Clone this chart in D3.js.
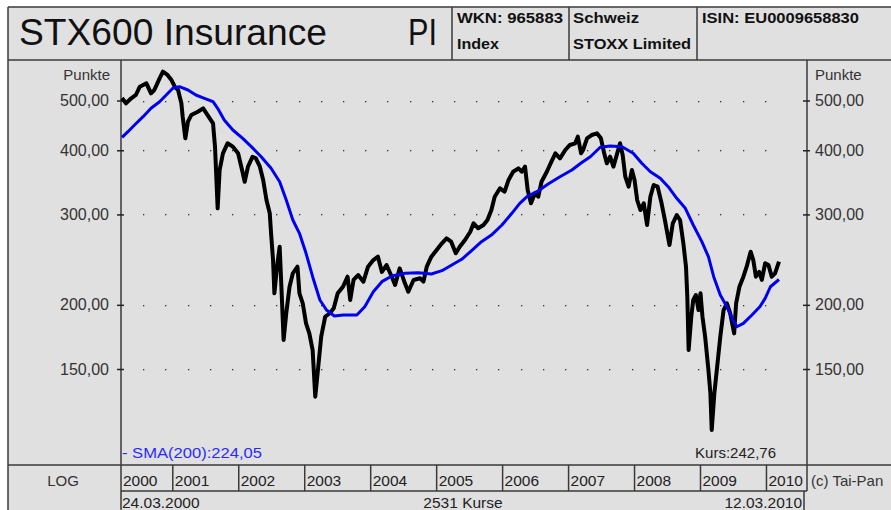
<!DOCTYPE html>
<html>
<head>
<meta charset="utf-8">
<script src="https://cdn.jsdelivr.net/npm/d3@7"></script>
<style>
  html, body { margin: 0; padding: 0; background: #fff; }
  svg { display: block; font-family: "Liberation Sans", Arial, sans-serif; }
</style>
</head>
<body>
<div id="chart"></div>
<script>
//#region Data
// price (Kurs), x as decimal year
const priceYears = [
    2000.23, 2000.29, 2000.37, 2000.44, 2000.50, 2000.60, 2000.67, 2000.72, 2000.80, 2000.85,
    2000.92, 2000.98, 2001.03, 2001.08, 2001.13, 2001.15, 2001.19, 2001.23, 2001.28, 2001.38,
    2001.46, 2001.51, 2001.56, 2001.61, 2001.64, 2001.68, 2001.71, 2001.76, 2001.83, 2001.91,
    2001.99, 2002.05, 2002.09, 2002.14, 2002.21, 2002.26, 2002.32, 2002.37, 2002.42, 2002.47,
    2002.49, 2002.52, 2002.54, 2002.58, 2002.62, 2002.64, 2002.68, 2002.72, 2002.77, 2002.82,
    2002.89, 2002.92, 2002.97, 2003.02, 2003.07, 2003.12, 2003.16, 2003.20, 2003.25, 2003.31,
    2003.38, 2003.44, 2003.50, 2003.58, 2003.65, 2003.69, 2003.74, 2003.81, 2003.89, 2003.96,
    2004.04, 2004.11, 2004.17, 2004.24, 2004.32, 2004.37, 2004.44, 2004.51, 2004.57, 2004.65,
    2004.75, 2004.80, 2004.85, 2004.92, 2005.00, 2005.08, 2005.15, 2005.22, 2005.29, 2005.35,
    2005.43, 2005.51, 2005.56, 2005.63, 2005.71, 2005.77, 2005.83, 2005.88, 2005.96, 2006.03,
    2006.09, 2006.16, 2006.24, 2006.29, 2006.34, 2006.38, 2006.43, 2006.49, 2006.54, 2006.59,
    2006.67, 2006.74, 2006.80, 2006.87, 2006.95, 2007.02, 2007.10, 2007.14, 2007.19, 2007.22,
    2007.28, 2007.35, 2007.43, 2007.49, 2007.54, 2007.58, 2007.63, 2007.68, 2007.73, 2007.78,
    2007.82, 2007.86, 2007.91, 2007.96, 2008.00, 2008.04, 2008.09, 2008.14, 2008.19, 2008.24,
    2008.29, 2008.35, 2008.41, 2008.46, 2008.53, 2008.58, 2008.64, 2008.69, 2008.74, 2008.78,
    2008.80, 2008.82, 2008.86, 2008.89, 2008.93, 2008.97, 2009.00, 2009.03, 2009.07, 2009.12,
    2009.15, 2009.17, 2009.21, 2009.25, 2009.30, 2009.35, 2009.40, 2009.45, 2009.51, 2009.54,
    2009.59, 2009.65, 2009.70, 2009.76, 2009.80, 2009.84, 2009.89, 2009.93, 2009.98, 2010.03,
    2010.08, 2010.13, 2010.19
];
const priceValues = [
    505.6, 493.8, 505.0, 512.5, 531.9, 540.1, 516.4, 524.1, 552.3, 569.0,
    560.6, 548.1, 531.9, 524.1, 493.8, 465.0, 422.0, 454.7, 468.5, 475.5,
    482.8, 472.1, 461.6, 451.4, 406.5, 308.3, 366.1, 394.6, 412.7, 406.5,
    394.6, 366.1, 347.4, 371.6, 388.6, 385.8, 371.6, 350.1, 320.0, 301.5,
    275.6, 244.5, 210.6, 237.3, 259.6, 226.9, 170.8, 192.6, 216.9, 230.4,
    237.3, 210.6, 201.4, 184.1, 176.0, 163.3, 132.5, 149.3, 173.4, 189.6,
    192.6, 196.9, 210.6, 216.9, 226.9, 204.4, 223.6, 228.6, 221.9, 237.3,
    244.5, 248.2, 231.8, 239.1, 226.9, 218.6, 235.6, 221.9, 212.1, 223.6,
    225.3, 221.9, 237.3, 248.2, 255.8, 263.6, 269.5, 265.5, 252.0, 259.6,
    267.5, 277.6, 288.3, 281.9, 286.1, 292.6, 306.0, 324.8, 337.3, 332.2,
    350.1, 363.3, 368.9, 363.3, 371.6, 334.7, 315.3, 329.8, 324.8, 347.4,
    363.3, 380.0, 394.6, 385.8, 400.5, 409.6, 412.7, 425.1, 394.6, 400.5,
    422.0, 428.3, 431.6, 422.0, 394.6, 377.3, 388.6, 371.6, 391.6, 412.7,
    391.6, 355.3, 339.7, 366.1, 350.1, 320.0, 306.0, 315.3, 286.1, 324.8,
    342.3, 339.7, 315.3, 292.6, 261.5, 288.3, 299.2, 292.6, 263.6, 237.3,
    207.4, 163.3, 189.6, 204.4, 209.0, 195.4, 210.6, 189.6, 173.4, 149.3,
    134.5, 114.1, 134.5, 150.5, 173.4, 195.4, 201.4, 192.6, 176.0, 201.4,
    216.9, 226.9, 237.3, 253.8, 244.5, 226.9, 231.8, 223.6, 241.0, 239.1,
    226.9, 230.4, 242.76
];

// SMA(200)
const smaYears = [
    2000.23, 2000.32, 2000.42, 2000.55, 2000.67, 2000.80, 2000.90, 2001.00, 2001.10, 2001.23,
    2001.35, 2001.48, 2001.61, 2001.68, 2001.78, 2001.91, 2002.06, 2002.19, 2002.34, 2002.49,
    2002.62, 2002.72, 2002.82, 2002.92, 2003.02, 2003.12, 2003.23, 2003.33, 2003.45, 2003.58,
    2003.79, 2003.91, 2004.04, 2004.17, 2004.32, 2004.52, 2004.72, 2004.92, 2005.08, 2005.23,
    2005.38, 2005.53, 2005.68, 2005.83, 2005.99, 2006.14, 2006.26, 2006.37, 2006.52, 2006.69,
    2006.87, 2007.05, 2007.19, 2007.33, 2007.48, 2007.63, 2007.81, 2007.98, 2008.11, 2008.24,
    2008.39, 2008.51, 2008.64, 2008.77, 2008.89, 2009.02, 2009.12, 2009.20, 2009.30, 2009.40,
    2009.49, 2009.55, 2009.65, 2009.78, 2009.90, 2009.98, 2010.06, 2010.19
];
const smaValues = [
    423.9, 434.7, 448.0, 465.0, 482.8, 497.3, 512.5, 528.1, 531.9, 524.1,
    512.5, 505.0, 497.3, 482.8, 458.1, 438.0, 422.0, 406.5, 388.6, 368.9,
    347.4, 320.0, 292.6, 275.6, 252.0, 226.9, 204.4, 195.4, 190.2, 191.1,
    191.1, 198.3, 212.1, 221.9, 227.6, 230.4, 231.0, 229.7, 233.1, 239.1,
    245.3, 255.0, 265.5, 273.5, 286.1, 301.5, 315.3, 324.8, 332.2, 343.9,
    355.3, 366.1, 377.8, 388.6, 405.4, 407.7, 406.5, 394.6, 377.3, 363.3,
    352.7, 339.7, 322.5, 308.3, 286.1, 265.5, 248.2, 226.9, 209.0, 198.3,
    186.9, 181.3, 184.1, 191.1, 198.3, 205.9, 216.9, 224.05
];

const yearLabels = [2000, 2001, 2002, 2003, 2004, 2005, 2006, 2007, 2008, 2009, 2010];
const yTicks = [150, 200, 300, 400, 500];
//#endregion

document.addEventListener("DOMContentLoaded", function () {
    drawChart();
});

function drawChart() {
    const W = 891, H = 510;
    const box = { left: 8, top: 7, headBottom: 60 };
    const plot = { left: 121, right: 807, top: 60, bottom: 465 };
    const rowBottom = 491;
    const lineCol = "#3a3a3a";

    const svg = d3.select("#chart")
        .append("svg")
        .attr("width", W)
        .attr("height", H);

    // panel background
    svg.append("rect")
        .attr("x", box.left).attr("y", box.top)
        .attr("width", W - box.left).attr("height", H - box.top)
        .attr("fill", "#e0e0e0");

    const x = d3.scaleLinear()
        .domain([2000.23, 2010.19])
        .range([122, 779]);

    const y = d3.scaleLog()
        .domain([150, 500])
        .range([369, 100.5]);

    const de = d3.formatLocale({ decimal: ",", thousands: ".", grouping: [3], currency: ["", " €"] });
    const fmt = de.format(".2f");

    //#region header
    const frame = svg.append("g").attr("stroke", lineCol).attr("stroke-width", 1.5).attr("fill", "none");
    frame.append("line").attr("x1", box.left).attr("x2", W).attr("y1", box.top).attr("y2", box.top);
    frame.append("line").attr("x1", box.left).attr("x2", box.left).attr("y1", box.top).attr("y2", H);
    frame.append("line").attr("x1", box.left).attr("x2", W).attr("y1", box.headBottom).attr("y2", box.headBottom);
    [452, 569, 697].forEach(d => {
        frame.append("line").attr("x1", d).attr("x2", d).attr("y1", box.top).attr("y2", box.headBottom);
    });

    svg.append("text")
        .attr("x", 19).attr("y", 45)
        .attr("font-size", 36)
        .attr("textLength", 308).attr("lengthAdjust", "spacingAndGlyphs")
        .attr("fill", "#111")
        .text("STX600 Insurance");
    svg.append("text")
        .attr("x", 408).attr("y", 45)
        .attr("font-size", 36)
        .attr("textLength", 29).attr("lengthAdjust", "spacingAndGlyphs")
        .attr("fill", "#111")
        .text("PI");

    // header cells, widths
    const info = [
        { x: 457, y: 23, t: "WKN: 965883", w: 106 },
        { x: 457, y: 49, t: "Index", w: 42 },
        { x: 573, y: 23, t: "Schweiz", w: 66 },
        { x: 573, y: 49, t: "STOXX Limited", w: 118 },
        { x: 702, y: 23, t: "ISIN: EU0009658830", w: 157 }
    ];
    svg.append("g").selectAll("text")
        .data(info)
        .enter()
        .append("text")
        .attr("x", d => d.x).attr("y", d => d.y)
        .attr("font-size", 15.5).attr("font-weight", "bold")
        .attr("textLength", d => d.w).attr("lengthAdjust", "spacingAndGlyphs")
        .attr("fill", "#111")
        .text(d => d.t);
    //#endregion

    //#region grid + axes
    const dotXs = d3.range(1, 30).map(i => plot.left + i * 22.2);
    const grid = svg.append("g");
    yTicks.forEach(v => {
        grid.selectAll(null)
            .data(dotXs)
            .enter()
            .append("rect")
            .attr("x", d => Math.round(d)).attr("y", Math.round(y(v)))
            .attr("width", 1.3).attr("height", 1.3)
            .attr("fill", "#333");
    });

    const axL = svg.append("g")
        .attr("transform", `translate(${plot.left},0)`)
        .call(d3.axisLeft(y).tickValues(yTicks).tickFormat(fmt).tickSize(4).tickPadding(8));
    const axR = svg.append("g")
        .attr("transform", `translate(${plot.right},0)`)
        .call(d3.axisRight(y).tickValues(yTicks).tickFormat(fmt).tickSize(0).tickPadding(8));
    [axL, axR].forEach(ax => {
        ax.select(".domain").remove();
        ax.selectAll(".tick line").attr("x1", -4).attr("x2", 3).attr("stroke", "#222").attr("stroke-width", 1.5);
        ax.selectAll(".tick text")
            .attr("font-family", "Liberation Sans, Arial, sans-serif")
            .attr("font-size", 16).attr("fill", "#333");
    });
    axL.selectAll(".tick text").attr("x", -12);

    svg.append("text").attr("x", 110).attr("y", 80).attr("text-anchor", "end")
        .attr("font-size", 15).attr("fill", "#333").text("Punkte");
    svg.append("text").attr("x", 815).attr("y", 80)
        .attr("font-size", 15).attr("fill", "#333").text("Punkte");

    // frame lines of plot and footer
    frame.append("line").attr("x1", plot.left).attr("x2", plot.left).attr("y1", plot.top).attr("y2", H);
    frame.append("line").attr("x1", plot.right).attr("x2", plot.right).attr("y1", plot.top).attr("y2", rowBottom);
    frame.append("line").attr("x1", box.left).attr("x2", W).attr("y1", plot.bottom).attr("y2", plot.bottom);
    frame.append("line").attr("x1", plot.left).attr("x2", plot.right).attr("y1", rowBottom).attr("y2", rowBottom);
    frame.append("line").attr("x1", 804).attr("x2", 804).attr("y1", rowBottom).attr("y2", H);
    //#endregion

    //#region lines
    const priceData = priceYears.map((d, i) => ({ t: d, v: priceValues[i] }));
    const smaData = smaYears.map((d, i) => ({ t: d, v: smaValues[i] }));

    const line = d3.line()
        .x(d => x(d.t))
        .y(d => y(d.v));

    svg.append("path")
        .datum(priceData)
        .attr("d", line)
        .attr("fill", "none")
        .attr("stroke", "#000")
        .attr("stroke-width", 4)
        .attr("stroke-linejoin", "round");

    svg.append("path")
        .datum(smaData)
        .attr("d", line)
        .attr("fill", "none")
        .attr("stroke", "#0000f0")
        .attr("stroke-width", 3)
        .attr("stroke-linejoin", "round");

    svg.append("text").attr("x", 122).attr("y", 458)
        .attr("font-size", 15.5).attr("fill", "#2a2aff")
        .attr("textLength", 140).attr("lengthAdjust", "spacingAndGlyphs")
        .text("- SMA(200):" + fmt(smaValues[smaValues.length - 1]));
    svg.append("text").attr("x", 776).attr("y", 458).attr("text-anchor", "end")
        .attr("font-size", 15).attr("fill", "#222")
        .text("Kurs:" + fmt(priceValues[priceValues.length - 1]));
    //#endregion

    //#region footer (years, dates)
    const years = svg.append("g");
    yearLabels.forEach(yr => {
        const left = Math.max(x(yr), plot.left);
        if (yr > yearLabels[0]) {
            years.append("line")
                .attr("x1", left).attr("x2", left)
                .attr("y1", plot.bottom).attr("y2", rowBottom)
                .attr("stroke", lineCol).attr("stroke-width", 1.5);
        }
        years.append("text")
            .attr("x", left + 2).attr("y", 486)
            .attr("font-size", 15.5).attr("fill", "#222")
            .text(yr);
    });

    svg.append("text").attr("x", 63).attr("y", 486).attr("text-anchor", "middle")
        .attr("font-size", 15).attr("fill", "#333").text("LOG");
    svg.append("text").attr("x", 811).attr("y", 486)
        .attr("font-size", 15).attr("fill", "#333").text("(c) Tai-Pan");

    svg.append("text").attr("x", 122).attr("y", 508)
        .attr("font-size", 15.5).attr("fill", "#222").text("24.03.2000");
    svg.append("text").attr("x", 463).attr("y", 508).attr("text-anchor", "middle")
        .attr("font-size", 15.5).attr("fill", "#222").text("2531 Kurse");
    svg.append("text").attr("x", 802).attr("y", 508).attr("text-anchor", "end")
        .attr("font-size", 15.5).attr("fill", "#222").text("12.03.2010");
    //#endregion
}
</script>
</body>
</html>
